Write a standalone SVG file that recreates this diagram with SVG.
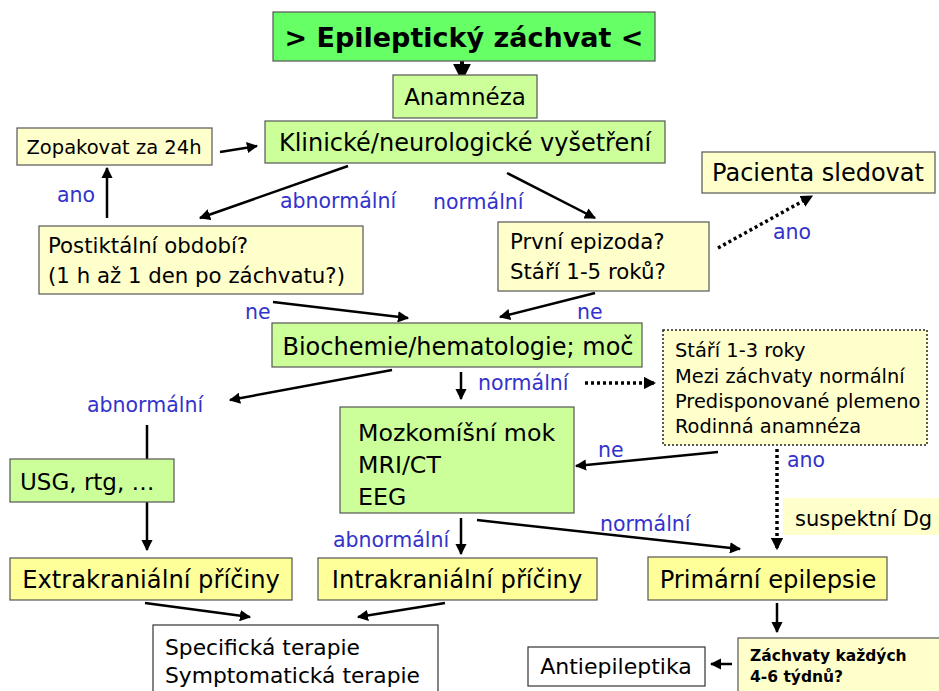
<svg xmlns="http://www.w3.org/2000/svg" width="939" height="691" viewBox="0 0 939 691">
<defs>
<style>
text{font-family:"DejaVu Sans","Noto Sans",sans-serif;fill:#000}
.g{fill:#ccff99;stroke:#555;stroke-width:1.2}
.y{fill:#ffffcc;stroke:#555;stroke-width:1.2}
.yy{fill:#ffff99;stroke:#555;stroke-width:1.2}
.w{fill:#fff;stroke:#333;stroke-width:1.2}
.lbl{fill:#3333cc;font-size:20.5px}
.c{stroke:#000;stroke-width:2.5;fill:none}
.d{stroke:#000;stroke-width:3.5;fill:none;stroke-dasharray:3 3}
</style>
<marker id="ah" viewBox="0 0 10 10" refX="9" refY="5" markerWidth="4.5" markerHeight="4.5" orient="auto" markerUnits="strokeWidth"><path d="M0,0 L10,5 L0,10 z" fill="#000"/></marker>
<marker id="ahd" viewBox="0 0 10 10" refX="9" refY="5" markerWidth="3.5" markerHeight="3.5" orient="auto" markerUnits="strokeWidth"><path d="M0,0 L10,5 L0,10 z" fill="#000"/></marker>
</defs>
<rect width="939" height="691" fill="#fff"/>

<g id="connectors">
<line class="c" x1="462" y1="61" x2="462" y2="80" style="stroke-width:4" marker-end="url(#ah)"/>
<line class="c" x1="220" y1="152" x2="257" y2="146" marker-end="url(#ah)"/>
<line class="c" x1="107" y1="218" x2="107" y2="168" marker-end="url(#ah)"/>
<line class="c" x1="348" y1="166" x2="200" y2="218" marker-end="url(#ah)"/>
<line class="c" x1="507" y1="173" x2="595" y2="218" marker-end="url(#ah)"/>
<line class="d" x1="718" y1="248" x2="812" y2="196" marker-end="url(#ahd)"/>
<line class="c" x1="273" y1="302" x2="408" y2="318" marker-end="url(#ah)"/>
<line class="c" x1="595" y1="293" x2="500" y2="317" marker-end="url(#ah)"/>
<line class="c" x1="392" y1="370" x2="230" y2="400" marker-end="url(#ah)"/>
<line class="c" x1="147" y1="425" x2="147" y2="459"/>
<line class="c" x1="147" y1="502" x2="147" y2="550" marker-end="url(#ah)"/>
<line class="c" x1="461" y1="372" x2="461" y2="399" marker-end="url(#ah)"/>
<line class="d" x1="585" y1="383" x2="655" y2="383" marker-end="url(#ahd)"/>
<line class="c" x1="718" y1="452" x2="576" y2="466" marker-end="url(#ah)"/>
<line class="d" x1="777" y1="449" x2="777" y2="549" marker-end="url(#ahd)"/>
<line class="c" x1="477" y1="520" x2="740" y2="549" marker-end="url(#ah)"/>
<line class="c" x1="461" y1="518" x2="461" y2="554" marker-end="url(#ah)"/>
<line class="c" x1="145" y1="603" x2="250" y2="617" marker-end="url(#ah)"/>
<line class="c" x1="445" y1="603" x2="358" y2="617" marker-end="url(#ah)"/>
<line class="c" x1="777" y1="603" x2="777" y2="632" marker-end="url(#ah)"/>
<line class="c" x1="732" y1="664" x2="711" y2="664" marker-end="url(#ah)"/>
<text class="lbl" x="57" y="202">ano</text>
<text class="lbl" x="280" y="208">abnormální</text>
<text class="lbl" x="433" y="209">normální</text>
<text class="lbl" x="773" y="239">ano</text>
<text class="lbl" x="245" y="319">ne</text>
<text class="lbl" x="577" y="319">ne</text>
<text class="lbl" x="87" y="412">abnormální</text>
<text class="lbl" x="478" y="390">normální</text>
<text class="lbl" x="598" y="457">ne</text>
<text class="lbl" x="787" y="467">ano</text>
<text class="lbl" x="600" y="531">normální</text>
<text class="lbl" x="333" y="547">abnormální</text>
</g>

<g id="title"><rect x="273" y="12" width="382" height="49" fill="#66ff66" stroke="#555" stroke-width="1.2"/><text x="464" y="47" text-anchor="middle" font-size="27" font-weight="bold">&gt; Epileptický záchvat &lt;</text></g>
<g id="anamneza"><rect class="g" x="393" y="75" width="144" height="43"/><text x="465" y="105" text-anchor="middle" font-size="23">Anamnéza</text></g>
<g id="klinicke"><rect class="g" x="265" y="121" width="400" height="42"/><text x="465" y="151" text-anchor="middle" font-size="24">Klinické/neurologické vyšetření</text></g>
<g id="zopakovat"><rect class="y" x="17" y="128" width="195" height="37"/><text x="114" y="154" text-anchor="middle" font-size="19.5">Zopakovat za 24h</text></g>
<g id="pacienta"><rect class="y" x="702" y="152" width="233" height="41"/><text x="818" y="181" text-anchor="middle" font-size="24">Pacienta sledovat</text></g>
<g id="postiktalni"><rect class="y" x="39" y="226" width="324" height="68"/><text x="48" y="253" font-size="21.3">Postiktální období?</text><text x="48" y="283" font-size="21.3">(1 h až 1 den po záchvatu?)</text></g>
<g id="prvni"><rect class="y" x="498" y="222" width="211" height="69"/><text x="510" y="249" font-size="21.3">První epizoda?</text><text x="510" y="279" font-size="21.3">Stáří 1-5 roků?</text></g>
<g id="biochemie"><rect class="g" x="272" y="323" width="370" height="44"/><text x="458" y="355" text-anchor="middle" font-size="24">Biochemie/hematologie; moč</text></g>
<g id="kriteria"><rect x="663" y="330" width="264" height="115" fill="#ffffcc" stroke="#222" stroke-width="1.5" stroke-dasharray="2 2"/><text x="675" y="357" font-size="19.4">Stáří 1-3 roky</text><text x="675" y="383" font-size="19.4">Mezi záchvaty normální</text><text x="675" y="408" font-size="19.4">Predisponované plemeno</text><text x="675" y="433" font-size="19.4">Rodinná anamnéza</text></g>
<g id="mozkomisni"><rect class="g" x="340" y="407" width="234" height="106"/><text x="358" y="441" font-size="23.7">Mozkomíšní mok</text><text x="358" y="473" font-size="23.7">MRI/CT</text><text x="358" y="505" font-size="23.7">EEG</text></g>
<g id="usg"><rect class="g" x="10" y="459" width="164" height="43"/><text x="20" y="490" font-size="23">USG, rtg, …</text></g>
<g id="extrakranialni"><rect class="yy" x="10" y="558" width="282" height="42"/><text x="151" y="588" text-anchor="middle" font-size="24.2">Extrakraniální příčiny</text></g>
<g id="intrakranialni"><rect class="yy" x="318" y="558" width="279" height="42"/><text x="457" y="588" text-anchor="middle" font-size="24.2">Intrakraniální příčiny</text></g>
<g id="primarni"><rect class="yy" x="648" y="557" width="239" height="43"/><text x="768" y="588" text-anchor="middle" font-size="24.2">Primární epilepsie</text></g>
<g id="suspektni"><rect x="783" y="498" width="156" height="37" fill="#ffffcc"/><text x="795" y="526" font-size="21">suspektní Dg</text></g>
<g id="terapie"><rect class="w" x="153" y="625" width="285" height="70"/><text x="165" y="655" font-size="21.8">Specifická terapie</text><text x="165" y="683" font-size="21.8">Symptomatická terapie</text></g>
<g id="antiepileptika"><rect class="w" x="528" y="647" width="177" height="39"/><text x="616" y="674" text-anchor="middle" font-size="22">Antiepileptika</text></g>
<g id="zachvaty"><rect class="y" x="738" y="638" width="205" height="60"/><text x="750" y="661" font-size="15.5" font-weight="bold">Záchvaty každých</text><text x="750" y="682" font-size="15.5" font-weight="bold">4-6 týdnů?</text></g>
</svg>
